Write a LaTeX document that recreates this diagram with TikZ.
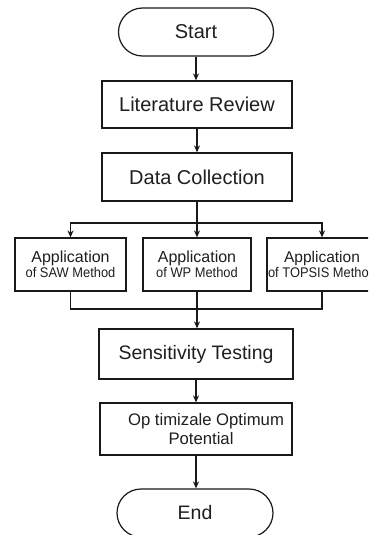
\documentclass[tikz,border=0pt]{standalone}
\usepackage{fontspec}
\setmainfont{Liberation Sans}
\newfontfamily\narrowsans[FakeStretch=0.92]{Liberation Sans}
\usetikzlibrary{arrows.meta}
\begin{document}
\begin{tikzpicture}[x=1pt,y=-1pt,
  every node/.style={text=black!88},
  box/.style={draw=black!90,line width=1.2pt,fill=white,align=center,inner sep=0pt},
  term/.style={box,rounded corners=24pt},
  big/.style={font=\fontsize{20}{22}\selectfont},
  conn/.style={draw=black!90,line width=1.2pt},
  arr/.style={conn,-{Stealth[length=7pt,width=6pt]}}]
\clip (0,0) rectangle (368,535);
\fill[white] (0,0) rectangle (368,535);
\node[term,big,minimum width=155pt,minimum height=48pt] (start) at (196,32) {Start};
\node[box,big,minimum width=190pt,minimum height=47pt] (lit) at (197,104.5) {Literature Review};
\node[box,big,minimum width=190pt,minimum height=48pt] (data) at (197,177) {Data Collection};
\coordinate (split) at (197,223);
\node[box,minimum width=111pt,minimum height=53pt] (saw) at (70.5,264.5)
  {\fontsize{16}{19}\selectfont Application\\\narrowsans\fontsize{14}{17}\selectfont of SAW Method};
\node[box,minimum width=108pt,minimum height=53pt] (wp) at (197,264.5)
  {\fontsize{16}{19}\selectfont Application\\\narrowsans\fontsize{14}{17}\selectfont of WP Method};
\node[box,minimum width=110pt,minimum height=53pt] (topsis) at (322,264.5)
  {\fontsize{15.5}{19}\selectfont Application\\\narrowsans\fontsize{14}{17}\selectfont of TOPSIS Method};
\coordinate (merge) at (197,309);
\node[box,minimum width=194pt,minimum height=50pt,font=\fontsize{19.5}{22}\selectfont] (sens) at (196,354) {Sensitivity Testing};
\node[box,minimum width=192pt,minimum height=52pt,font=\fontsize{16.7}{19.5}\selectfont] (opt) at (196,429)
  {\hspace*{20pt}Op timizale Optimum\\\hspace*{10pt}Potential};
\node[term,big,minimum width=156pt,minimum height=48pt,font=\fontsize{19.5}{22}\selectfont] (end) at (195,513) {End};

\draw[arr] (start.south) -- (start.south |- lit.north);
\draw[arr] (lit.south) -- (data.north);
\draw[conn] (data.south) -- (split);
\draw[arr] (split) -| (saw.north);
\draw[arr] (split) -| (topsis.north);
\draw[arr] (split) -- (wp.north);
\draw[conn] (saw.south) |- (merge) -| (topsis.south);
\draw[arr] (wp.south) -- (wp.south |- sens.north);
\draw[arr] (sens.south) -- (opt.north);
\draw[arr] (opt.south) -- (opt.south |- end.north);
\end{tikzpicture}
\end{document}
